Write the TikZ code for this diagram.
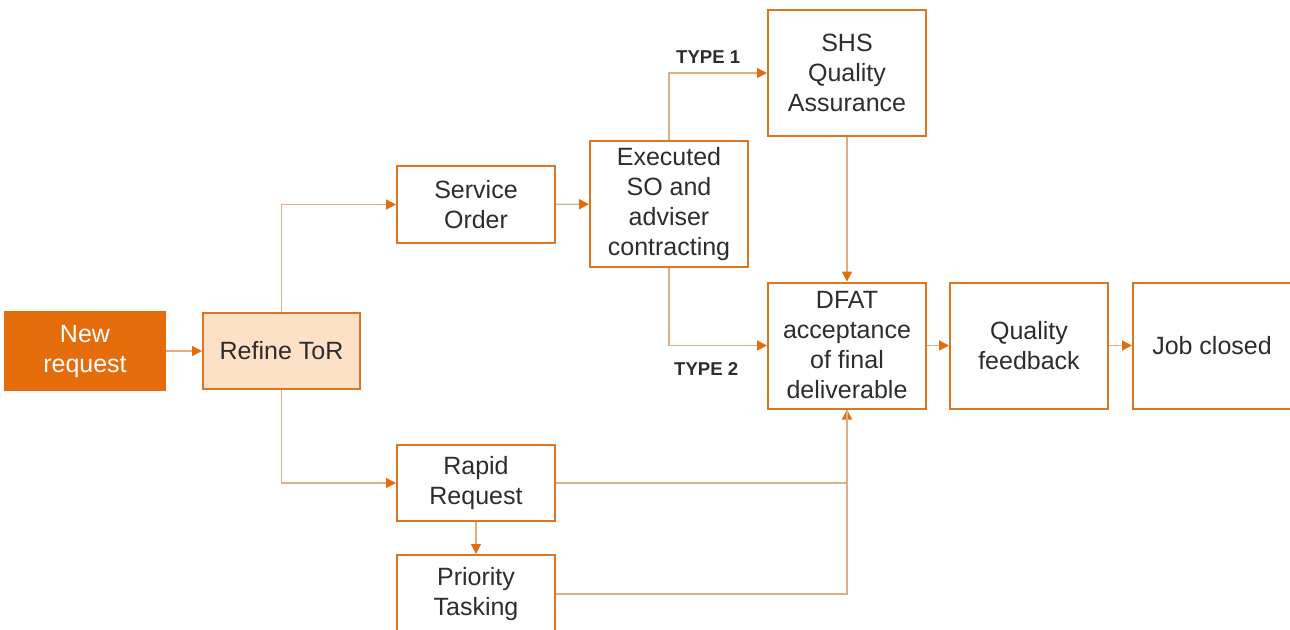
\documentclass[tikz,border=0pt]{standalone}
\usepackage{fontspec}
\setmainfont{Liberation Sans}
\usepackage{tikz}
\usetikzlibrary{arrows.meta,positioning}
\definecolor{boxorange}{RGB}{218,118,36}
\definecolor{fillorange}{RGB}{228,108,10}
\definecolor{peach}{RGB}{253,225,198}
\definecolor{lineorange}{RGB}{228,172,130}
\definecolor{darktext}{RGB}{45,45,45}
\tikzstyle{block}  = [draw=boxorange,line width=1pt,fill=white,minimum width=79pt,minimum height=38.5pt,align=center,text=darktext,inner sep=1pt,font=\fontsize{12.5}{15}\selectfont]
\tikzstyle{tall}   = [block,minimum height=63pt]
\tikzstyle{start}  = [block,fill=fillorange,draw=fillorange,text=white]
\tikzstyle{tag}    = [text=darktext,font=\fontsize{9.3}{11}\selectfont\bfseries]
\tikzstyle{conn}   = [draw=lineorange,line width=0.7pt]

\begin{document}
\begin{tikzpicture}[x=0.5pt,y=0.5pt,conn,-{Triangle[length=5pt,width=5pt,color=fillorange]}]
\useasboundingbox (0,0) rectangle (1290,-629);

\node[start] (New)     at (85,-351)    [minimum width=80pt,minimum height=39pt] {New\\request};
\node[block] (Refine)  at (281.5,-351) [fill=peach,minimum width=78.5pt,minimum height=38pt] {Refine ToR};
\node[block] (SO)      at (476,-204.5) {Service\\Order};
\node[tall]  (Exec)    at (669,-204)   {Executed\\SO and\\adviser\\contracting};
\node[tall]  (SHS)     at (847,-73)    {SHS\\Quality\\Assurance};
\node[tall]  (DFAT)    at (847,-345.5) {DFAT\\acceptance\\of final\\deliverable};
\node[tall]  (QF)      [right=11pt of DFAT] {Quality\\feedback};
\node[tall]  (Job)     [right=11.5pt of QF] {Job closed};
\node[block] (Rapid)   at (476,-483)   [minimum height=38pt] {Rapid\\Request};
\node[block] (Prio)    at (476,-594)   [minimum height=39pt] {Priority\\Tasking};

\path
    (New)    edge (Refine)
    (SO)     edge (Exec)
    (SHS)    edge (DFAT)
    (DFAT)   edge (QF)
    (QF)     edge (Job)
    (Rapid)  edge (Prio);
\draw (Refine.north) |- (SO.west);
\draw (Refine.south) |- (Rapid.west);
\draw (Exec.north) |- node[tag,pos=0.7,above=1pt] {TYPE 1} (SHS.west);
\draw (Exec.south) |- node[tag,pos=0.69,below=5pt] {TYPE 2} (DFAT.west);
\draw (Rapid.east) -| (DFAT.south);
\draw[-] (Prio.east) -| (DFAT.south);
\end{tikzpicture}
\end{document}
